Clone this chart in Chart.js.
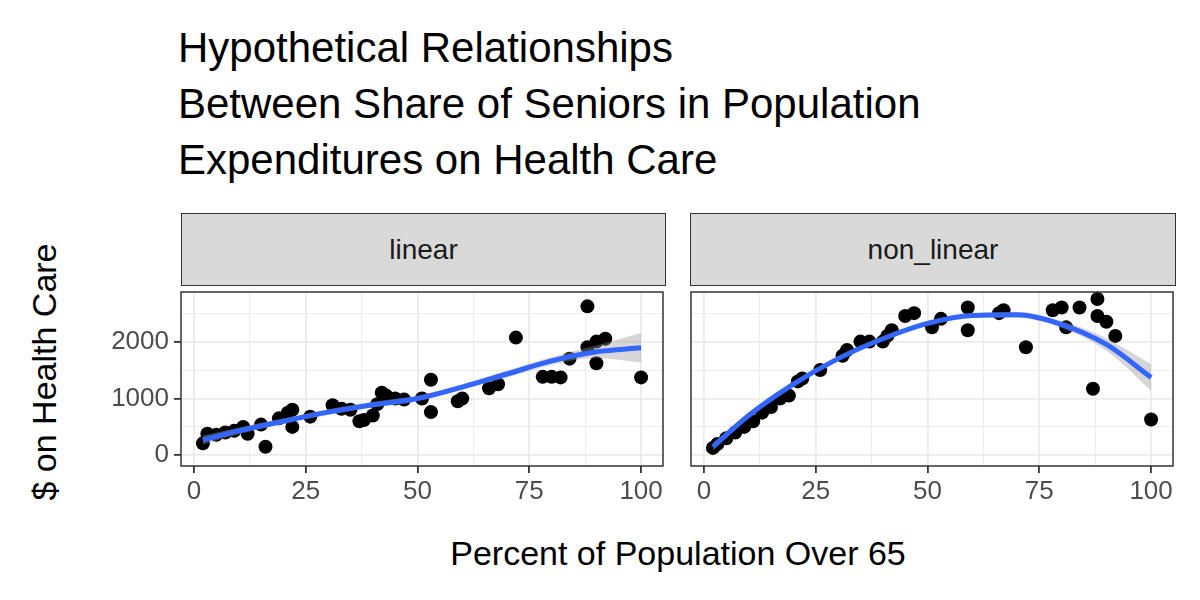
<!DOCTYPE html>
<html><head><meta charset="utf-8">
<script src="https://cdn.jsdelivr.net/npm/chart.js@4"></script>
<style>
  body { margin:0; width:1200px; height:600px; background:#fff; font-family:"Liberation Sans", Arial, sans-serif; position:relative; overflow:hidden; }
  .title { position:absolute; left:178px; top:20px; font-size:42px; line-height:56px; color:#000; }
  .strip { position:absolute; top:213px; height:73px; background:#d9d9d9; border:1.5px solid #333; box-sizing:border-box; font-size:28px; color:#1a1a1a; display:flex; align-items:center; justify-content:center; }
  .ylab { position:absolute; left:44px; top:372px; transform:translate(-50%,-50%) rotate(-90deg); font-size:34px; white-space:nowrap; }
  .xlab { position:absolute; left:678px; top:553px; transform:translate(-50%,-50%); font-size:34px; white-space:nowrap; }
  .box { position:absolute; }
</style></head>
<body>
<div class="title">Hypothetical Relationships<br>Between Share of Seniors in Population<br>Expenditures on Health Care</div>
<div class="strip" style="left:181px;width:485px">linear</div>
<div class="strip" style="left:690px;width:486px">non_linear</div>
<div class="ylab">$ on Health Care</div>
<div class="xlab">Percent of Population Over 65</div>
<div class="box" style="left:95px;top:285px;width:575px;height:240px"><canvas id="c1"></canvas></div>
<div class="box" style="left:680px;top:285px;width:500px;height:240px"><canvas id="c2"></canvas></div>
<script>
// linear panel points
const linX = [2,3,5,7,9,11,12,15,16,19,21,22,22,26,31,33,35,37,38,40,41,42,43,45,47,51,53,53,59,60,66,68,72,78,80,82,84,88,88,90,90,92,100];
const linY = [210,380,360,400,430,500,380,540,150,650,750,800,500,680,880,820,800,600,620,700,900,1100,1050,1000,980,1000,1330,760,950,1000,1180,1250,2070,1380,1380,1370,1700,2620,1900,1620,2000,2050,1370];
// linear smooth fit
const linFitX = [2,10,20,30,40,50,60,70,80,90,100];
const linFit  = [270,430,600,760,890,1000,1200,1430,1660,1820,1890];
const linSe   = [80,60,50,50,50,50,50,60,70,110,260];

// non-linear panel points
const nlX = [2,3,5,7,9,11,13,15,17,19,21,22,26,31,32,35,37,40,41,42,45,47,51,53,59,59,66,67,72,78,80,81,84,88,88,90,92,87,100];
const nlY = [130,200,300,400,500,600,750,850,1000,1050,1300,1350,1500,1750,1850,2000,2000,2000,2100,2200,2450,2500,2250,2400,2600,2200,2500,2550,1900,2550,2600,2250,2600,2750,2450,2350,2100,1170,630];
const nlFitX = [2,10,20,30,40,50,60,70,80,90,100];
const nlFit  = [150,700,1250,1700,2050,2320,2460,2470,2300,1950,1370];
const nlSe   = [70,50,40,40,40,40,40,50,60,110,230];

const xTicks = [0,12.5,25,37.5,50,62.5,75,87.5,100];
const yTicks = [0,500,1000,1500,2000,2500];

const font = { family: '"Liberation Sans", Arial, sans-serif', size: 26 };

const borderPlugin = {
  id: 'panelBorder',
  afterDraw(chart) {
    const a = chart.chartArea, c = chart.ctx;
    c.save(); c.strokeStyle = '#333'; c.lineWidth = 1.5;
    c.strokeRect(a.left, a.top, a.right - a.left, a.bottom - a.top);
    c.restore();
  }
};

function makeChart(id, px, py, fx, fy, se, showY) {
  const pts = px.map((x, i) => ({ x, y: py[i] }));
  const fit = fx.map((x, i) => ({ x, y: fy[i] }));
  const up = fx.map((x, i) => ({ x, y: fy[i] + se[i] }));
  const lo = fx.map((x, i) => ({ x, y: fy[i] - se[i] }));
  new Chart(document.getElementById(id), {
    type: 'scatter',
    data: { datasets: [
      { data: fit, showLine: true, borderColor: '#3366ff', borderWidth: 5, pointRadius: 0, cubicInterpolationMode: 'monotone', order: 0 },
      { data: up, showLine: true, borderWidth: 0, borderColor: 'transparent', pointRadius: 0, fill: '+1', backgroundColor: 'rgba(153,153,153,0.4)', cubicInterpolationMode: 'monotone', order: 1 },
      { data: lo, showLine: true, borderWidth: 0, borderColor: 'transparent', pointRadius: 0, cubicInterpolationMode: 'monotone', order: 1 },
      { data: pts, pointRadius: 7, pointBackgroundColor: '#000', pointBorderWidth: 0, order: 2 }
    ]},
    options: {
      responsive: true, maintainAspectRatio: false, animation: false,
      layout: { padding: { top: 2, right: 5, left: showY ? 0 : 11 } },
      plugins: { legend: { display: false }, tooltip: { enabled: false } },
      scales: {
        x: {
          min: -2.9, max: 104.9,
          afterBuildTicks: ax => { ax.ticks = xTicks.map(v => ({ value: v })); },
          afterFit: ax => { ax.height = 59; ax.paddingLeft = 0; ax.paddingRight = 0; },
          border: { display: false },
          grid: {
            color: '#ebebeb',
            lineWidth: c => c.tick && c.tick.value % 25 === 0 ? 1.8 : 0.9,
            tickColor: c => c.tick && c.tick.value % 25 === 0 ? '#333' : 'transparent',
            tickLength: 7
          },
          ticks: { color: '#4d4d4d', font, padding: 3, maxRotation: 0, autoSkip: false,
            callback: v => v % 25 === 0 ? v : '' }
        },
        y: {
          min: -188, max: 2872,
          afterBuildTicks: ax => { ax.ticks = yTicks.map(v => ({ value: v })); },
          afterFit: ax => { ax.width = showY ? 86 : 0; ax.paddingTop = 0; ax.paddingBottom = 0; },
          border: { display: false },
          grid: {
            color: '#ebebeb',
            lineWidth: c => c.tick && c.tick.value % 1000 === 0 ? 1.8 : 0.9,
            tickColor: c => c.tick && c.tick.value % 1000 === 0 ? '#333' : 'transparent',
            tickLength: 7, drawTicks: showY
          },
          ticks: { display: showY, color: '#4d4d4d', font, padding: 5, autoSkip: false,
            callback: v => v % 1000 === 0 ? v : '' }
        }
      }
    },
    plugins: [borderPlugin]
  });
}

makeChart('c1', linX, linY, linFitX, linFit, linSe, true);
makeChart('c2', nlX, nlY, nlFitX, nlFit, nlSe, false);
</script>
</body></html>
